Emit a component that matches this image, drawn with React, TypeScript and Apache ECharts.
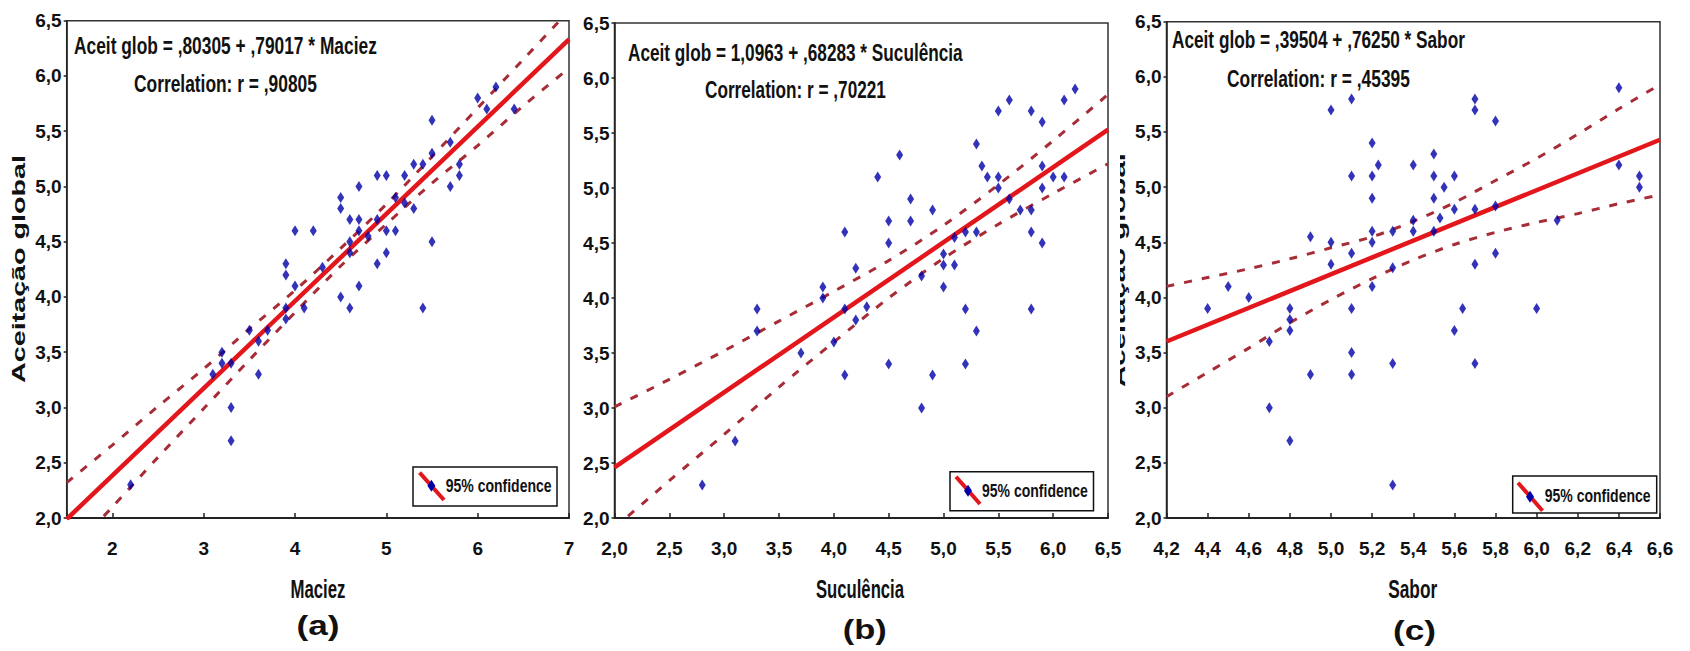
import React, { useEffect, useRef } from "react";
import * as echarts from "echarts";

// ---------------- DATA ----------------
// Panel (a) Maciez
const pontosMaciez: [number, number][] = [
  [6.2, 5.9], [6.0, 5.8], [6.1, 5.7], [6.4, 5.7], [5.5, 5.6], [5.7, 5.4], [5.5, 5.3],
  [5.3, 5.2], [5.4, 5.2], [5.8, 5.2], [5.8, 5.1], [5.7, 5.0], [4.9, 5.1], [5.0, 5.1],
  [5.2, 5.1], [5.1, 4.9], [5.2, 4.85], [5.3, 4.8], [4.7, 5.0], [4.5, 4.9], [4.5, 4.8],
  [4.6, 4.7], [4.7, 4.7], [4.9, 4.7], [4.0, 4.6], [4.2, 4.6], [4.7, 4.6], [5.0, 4.6],
  [5.1, 4.6], [4.8, 4.55], [4.6, 4.5], [5.5, 4.5], [5.0, 4.4], [4.6, 4.4], [4.9, 4.3],
  [3.9, 4.3], [3.9, 4.2], [4.3, 4.27], [4.0, 4.1], [4.7, 4.1], [4.5, 4.0], [4.6, 3.9],
  [5.4, 3.9], [4.1, 3.9], [3.9, 3.9], [3.5, 3.7], [3.7, 3.7], [3.9, 3.8], [3.2, 3.5],
  [3.2, 3.4], [3.1, 3.3], [3.3, 3.4], [3.6, 3.6], [3.6, 3.3], [3.3, 3.0], [3.3, 2.7],
  [2.2, 2.3],
];
const retaMaciez: [number, number][] = [[1.5, 1.99], [7.0, 6.33]];
const bandaXMaciez = [1.5, 2, 2.5, 3, 3.5, 4, 4.5, 5, 5.5, 6, 6.5, 7];
const bandaSupMaciez = [2.32, 2.66, 3.01, 3.35, 3.71, 4.06, 4.44, 4.84, 5.27, 5.71, 6.15, 6.59];
const bandaInfMaciez = [1.66, 2.1, 2.55, 2.99, 3.43, 3.86, 4.28, 4.66, 5.03, 5.37, 5.73, 6.07];

// Panel (b) Suculência
const pontosSuculencia: [number, number][] = [
  [6.2, 5.9], [6.1, 5.8], [5.6, 5.8], [5.5, 5.7], [5.8, 5.7], [5.9, 5.6], [4.6, 5.3],
  [5.3, 5.4], [5.35, 5.2], [5.9, 5.2], [5.4, 5.1], [5.5, 5.1], [6.0, 5.1], [6.1, 5.1],
  [4.4, 5.1], [5.5, 5.0], [5.9, 5.0], [5.6, 4.9], [4.7, 4.9], [4.9, 4.8], [5.7, 4.8],
  [5.8, 4.8], [4.5, 4.7], [4.7, 4.7], [5.2, 4.6], [5.3, 4.6], [5.8, 4.6], [4.1, 4.6],
  [4.5, 4.5], [5.1, 4.55], [5.9, 4.5], [5.0, 4.4], [5.0, 4.3], [5.1, 4.3], [4.2, 4.27],
  [4.8, 4.2], [5.0, 4.1], [3.9, 4.1], [3.9, 4.0], [4.1, 3.9], [4.3, 3.92], [5.2, 3.9],
  [5.8, 3.9], [3.3, 3.9], [3.3, 3.7], [4.2, 3.8], [5.3, 3.7], [3.7, 3.5], [4.0, 3.6],
  [4.1, 3.3], [4.5, 3.4], [4.9, 3.3], [4.8, 3.0], [5.2, 3.4], [3.1, 2.7], [2.8, 2.3],
];
const retaSuculencia: [number, number][] = [[2.0, 2.46], [6.5, 5.53]];
const bandaXSuculencia = [2, 2.5, 3, 3.5, 4, 4.5, 5, 5.5, 6, 6.5];
const bandaSupSuculencia = [3.01, 3.26, 3.52, 3.79, 4.06, 4.34, 4.66, 5.03, 5.43, 5.85];
const bandaInfSuculencia = [1.91, 2.34, 2.76, 3.19, 3.6, 4.0, 4.36, 4.67, 4.95, 5.22];

// Panel (c) Sabor
const pontosSabor: [number, number][] = [
  [6.4, 5.9], [5.7, 5.8], [5.7, 5.7], [5.8, 5.6], [5.0, 5.7], [5.1, 5.8], [5.2, 5.4],
  [5.23, 5.2], [5.1, 5.1], [5.2, 5.1], [5.2, 4.9], [5.4, 5.2], [5.5, 5.3], [5.5, 5.1],
  [5.6, 5.1], [5.55, 5.0], [5.5, 4.9], [6.4, 5.2], [6.5, 5.1], [6.5, 5.0], [5.7, 4.8],
  [5.6, 4.8], [5.8, 4.83], [5.53, 4.72], [5.4, 4.7], [5.4, 4.6], [5.5, 4.6], [5.3, 4.6],
  [5.2, 4.6], [5.2, 4.5], [4.9, 4.55], [5.0, 4.5], [5.0, 4.3], [5.1, 4.4], [5.8, 4.4],
  [6.1, 4.7], [5.7, 4.3], [5.3, 4.27], [5.2, 4.1], [4.5, 4.1], [4.6, 4.0], [4.4, 3.9],
  [4.8, 3.9], [5.1, 3.9], [5.64, 3.9], [6.0, 3.9], [4.8, 3.8], [4.7, 3.6], [4.8, 3.7],
  [5.1, 3.5], [5.1, 3.3], [4.9, 3.3], [5.3, 3.4], [5.7, 3.4], [5.6, 3.7], [4.7, 3.0],
  [4.8, 2.7], [5.3, 2.3],
];
const retaSabor: [number, number][] = [[4.2, 3.6], [6.6, 5.43]];
const bandaXSabor = [4.2, 4.4, 4.6, 4.8, 5.0, 5.2, 5.4, 5.6, 5.8, 6.0, 6.2, 6.4, 6.6];
const bandaSupSabor = [4.1, 4.18, 4.26, 4.35, 4.45, 4.55, 4.69, 4.86, 5.06, 5.26, 5.48, 5.71, 5.93];
const bandaInfSabor = [3.1, 3.32, 3.54, 3.77, 3.98, 4.17, 4.34, 4.48, 4.59, 4.68, 4.76, 4.85, 4.93];

// Texts
const equacoes = [
  "Aceit glob = ,80305 + ,79017 * Maciez",
  "Aceit glob = 1,0963 + ,68283 * Suculência",
  "Aceit glob = ,39504 + ,76250 * Sabor",
];
const correlacoes = ["Correlation: r = ,90805", "Correlation: r = ,70221", "Correlation: r = ,45395"];
const nomesX = ["Maciez", "Suculência", "Sabor"];
const rotulosPainel = ["(a)", "(b)", "(c)"];
const nomeY = "Aceitação global";
const legendaTexto = "95% confidence";

// ---------------- LAYOUT ----------------
const FONT_N = '"Liberation Sans", Arial, sans-serif';
const FONT_W = '"Liberation Sans", Arial, sans-serif';

const grids = [
  { left: 66.7, top: 20.7, width: 502.3, height: 497.3 },
  { left: 614.5, top: 23, width: 493.5, height: 495 },
  { left: 1166.5, top: 21.7, width: 493.5, height: 496.3 },
];
const xRanges = [
  { min: 1.5, max: 7 },
  { min: 2, max: 6.5, interval: 0.5 },
  { min: 4.2, max: 6.6, interval: 0.2 },
];
const eqPos = [
  { x: 74, y: 45, w: 303, x2: 134, y2: 83, w2: 183 },
  { x: 628, y: 52, w: 335, x2: 705, y2: 89, w2: 181 },
  { x: 1172, y: 39, w: 293, x2: 1227, y2: 78, w2: 183 },
];
const xNamePos = [
  { x: 318, y: 590, w: 55 },
  { x: 860, y: 590, w: 88 },
  { x: 1412.7, y: 590, w: 49 },
];
const panelLabelPos = [
  { x: 318, y: 625, w: 43 },
  { x: 864.7, y: 630, w: 44 },
  { x: 1414.5, y: 630, w: 43 },
];
const legendPos = [
  { rx: 413, ry: 467, rw: 144, rh: 39, l: [419.6, 472.7, 444, 500], d: [431.4, 485.7], tx: 445.7, ty: 485.7 },
  { rx: 950, ry: 471.7, rw: 143.5, rh: 39, l: [956, 476.7, 980, 504], d: [968, 490.7], tx: 982, ty: 491 },
  { rx: 1512.7, ry: 476, rw: 144, rh: 37, l: [1518, 482.7, 1542.5, 510.7], d: [1530, 496.7], tx: 1544.7, ty: 495.7 },
];

const RED = "#e3161c";
const DASH = "#a82c36";
const BLUE = "#0000a8";
const INK = "#111";

function measure(text: string, font: string): number {
  const ctx = document.createElement("canvas").getContext("2d")!;
  ctx.font = font;
  return ctx.measureText(text).width || 1;
}

function fitText(
  text: string,
  x: number,
  y: number,
  size: number,
  family: string,
  width: number,
  align: string,
  rotation = 0
): any {
  const font = `bold ${size}px ${family}`;
  const sx = width / measure(text, font);
  return {
    type: "text",
    x,
    y,
    rotation,
    scaleX: sx,
    z: 20,
    silent: true,
    style: { text, font, fill: INK, align, verticalAlign: "middle" },
  };
}

const fmtComma = (v: number) => v.toFixed(1).replace(".", ",");

export default function App() {
  const ref = useRef<HTMLDivElement>(null);

  useEffect(() => {
    if (!ref.current) return;
    const chart = echarts.init(ref.current, null, { renderer: "svg" });

    const pontos = [pontosMaciez, pontosSuculencia, pontosSabor];
    const retas = [retaMaciez, retaSuculencia, retaSabor];
    const bandaX = [bandaXMaciez, bandaXSuculencia, bandaXSabor];
    const bandaSup = [bandaSupMaciez, bandaSupSuculencia, bandaSupSabor];
    const bandaInf = [bandaInfMaciez, bandaInfSuculencia, bandaInfSabor];

    const series: any[] = [];
    for (let i = 0; i < 3; i++) {
      const sup = bandaX[i].map((x, k) => [x, bandaSup[i][k]]);
      const inf = bandaX[i].map((x, k) => [x, bandaInf[i][k]]);
      [sup, inf].forEach((d) =>
        series.push({
          type: "line",
          xAxisIndex: i,
          yAxisIndex: i,
          data: d,
          smooth: 0.3,
          showSymbol: false,
          silent: true,
          clip: true,
          z: 2,
          lineStyle: { color: DASH, width: 3, type: [8, 10] },
        })
      );
      series.push({
        type: "line",
        xAxisIndex: i,
        yAxisIndex: i,
        data: retas[i],
        showSymbol: false,
        silent: true,
        clip: true,
        z: 3,
        lineStyle: { color: RED, width: 4.5 },
      });
      series.push({
        type: "scatter",
        xAxisIndex: i,
        yAxisIndex: i,
        data: pontos[i],
        symbol: "diamond",
        symbolSize: [7, 11],
        silent: true,
        z: 5,
        itemStyle: { color: BLUE },
      });
    }

    const labelStyle = { fontFamily: FONT_N, fontWeight: "bold", fontSize: 19, color: INK };

    const xAxis = xRanges.map((r, i) => ({
      type: "value",
      gridIndex: i,
      min: r.min,
      max: r.max,
      ...(r.interval ? { interval: r.interval } : { splitNumber: 5 }),
      axisLine: { show: true, onZero: false, lineStyle: { color: "#222", width: 2 } },
      axisTick: { show: true, inside: true, length: 5, lineStyle: { color: "#222", width: 1.5 } },
      splitLine: { show: false },
      axisLabel: {
        ...labelStyle,
        margin: 21,
        formatter:
          i === 0
            ? (v: number) => (Math.abs(v - Math.round(v)) < 1e-6 ? String(Math.round(v)) : "")
            : (v: number) => fmtComma(v),
      },
    }));

    const yAxis = grids.map((_, i) => ({
      type: "value",
      gridIndex: i,
      min: 2,
      max: 6.5,
      interval: 0.5,
      axisLine: { show: true, onZero: false, lineStyle: { color: "#222", width: 1.5 } },
      axisTick: { show: true, inside: false, length: 3, lineStyle: { color: "#222", width: 1.5 } },
      splitLine: { show: false },
      axisLabel: { ...labelStyle, margin: 5, formatter: (v: number) => fmtComma(v) },
    }));

    const graphic: any[] = [];
    for (let i = 0; i < 3; i++) {
      const e = eqPos[i];
      graphic.push(fitText(equacoes[i], e.x, e.y, 24, FONT_N, e.w, "left"));
      graphic.push(fitText(correlacoes[i], e.x2, e.y2, 24, FONT_N, e.w2, "left"));
      const n = xNamePos[i];
      graphic.push(fitText(nomesX[i], n.x, n.y, 25, FONT_N, n.w, "center"));
      const p = panelLabelPos[i];
      graphic.push(fitText(rotulosPainel[i], p.x, p.y, 28, FONT_W, p.w, "center"));
      const L = legendPos[i];
      graphic.push({
        type: "rect",
        z: 15,
        silent: true,
        shape: { x: L.rx, y: L.ry, width: L.rw, height: L.rh },
        style: { fill: "#fff", stroke: "#111", lineWidth: 1.5 },
      });
      graphic.push({
        type: "line",
        z: 16,
        silent: true,
        shape: { x1: L.l[0], y1: L.l[1], x2: L.l[2], y2: L.l[3] },
        style: { stroke: RED, lineWidth: 4 },
      });
      const [cx, cy] = L.d;
      graphic.push({
        type: "polygon",
        z: 17,
        silent: true,
        shape: { points: [[cx, cy - 6], [cx + 4, cy], [cx, cy + 6], [cx - 4, cy]] },
        style: { fill: BLUE },
      });
      graphic.push(fitText(legendaTexto, L.tx, L.ty, 19, FONT_N, 106, "left"));
    }
    // y-axis title of panel (a)
    graphic.push(fitText(nomeY, 18.8, 269, 18, FONT_W, 228, "center", Math.PI / 2));
    // cut-off y-axis title visible at the left edge of panel (c)
    graphic.push(fitText(nomeY, 1119, 270, 18, FONT_W, 234, "center", Math.PI / 2));
    graphic.push({
      type: "rect",
      z: 30,
      silent: true,
      shape: { x: 1110, y: 130, width: 10, height: 280 },
      style: { fill: "#fff" },
    });

    chart.setOption({
      animation: false,
      backgroundColor: "#fff",
      grid: grids.map((g) => ({
        ...g,
        show: true,
        borderColor: "#333",
        borderWidth: 1.5,
        backgroundColor: "transparent",
        containLabel: false,
      })),
      xAxis,
      yAxis,
      series,
      graphic,
    });

    return () => chart.dispose();
  }, []);

  return (
    <div
      ref={ref}
      style={{ position: "absolute", left: 0, top: 0, width: 1690, height: 651, background: "#fff" }}
    />
  );
}
